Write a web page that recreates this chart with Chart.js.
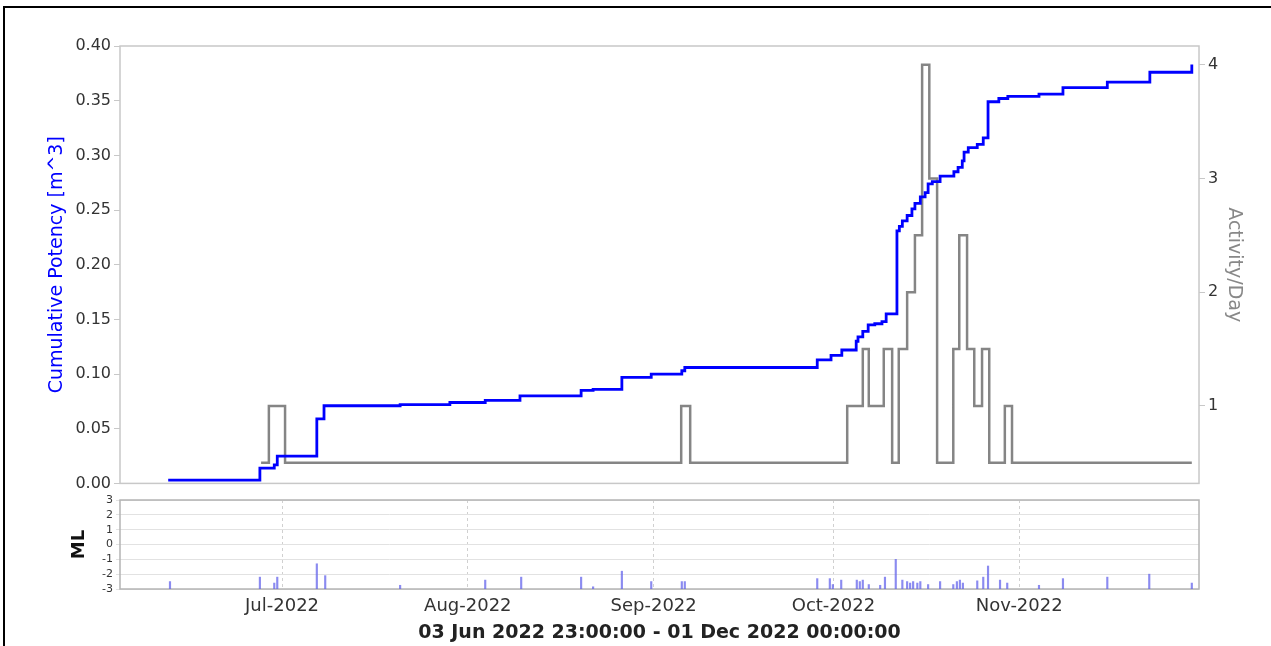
<!DOCTYPE html>
<html>
<head>
<meta charset="utf-8">
<script src="https://cdn.jsdelivr.net/npm/chart.js@4"></script>
<style>
  html, body { margin: 0; padding: 0; background: #fff; }
  body { width: 1271px; height: 646px; position: relative; overflow: hidden; }
  #frame { position: absolute; left: 3px; top: 6px; width: 1300px; height: 700px;
           border-top: 2px solid #000; border-left: 2px solid #000; }
  canvas { position: absolute; left: 0; }
  #topChart { top: 0; }
  #bottomChart { top: 490px; }
</style>
</head>
<body>
<div id="frame"></div>
<canvas id="topChart" width="1271" height="496"></canvas>
<canvas id="bottomChart" width="1271" height="156"></canvas>
<script>
// x values are days counted from 01 Jun 2022 00:00
const startDay = 2 + 23 / 24;   // 03 Jun 2022 23:00
const endDay = 183;             // 01 Dec 2022 00:00

const monthDays = [30, 61, 92, 122, 153];
const monthLabels = ['Jul-2022', 'Aug-2022', 'Sep-2022', 'Oct-2022', 'Nov-2022'];

// cumulative potency [m^3], value after each step
const potencyDays = [11.0, 26.3, 28.7, 29.2, 35.8, 37.0, 49.7, 58.0, 63.9, 69.7, 79.9, 81.9, 86.7,
  91.6, 96.7, 97.2, 119.3, 121.6, 123.4, 125.8, 126.1, 126.9, 127.8, 128.9, 130.1, 130.8, 132.6,
  133.0, 133.5, 134.3, 135.1, 135.6, 136.5, 137.3, 137.8, 138.5, 139.8, 142.1, 142.8, 143.5, 143.8,
  144.5, 146.0, 147.0, 147.8, 149.6, 151.1, 156.3, 160.3, 167.7, 174.8, 181.8];
const potencyValues = [0.003, 0.014, 0.017, 0.025, 0.059, 0.071, 0.072, 0.074, 0.076, 0.080, 0.085,
  0.086, 0.097, 0.100, 0.103, 0.106, 0.113, 0.117, 0.122, 0.130, 0.134, 0.139, 0.145, 0.146, 0.148,
  0.155, 0.231, 0.235, 0.240, 0.245, 0.251, 0.256, 0.262, 0.266, 0.274, 0.276, 0.281, 0.285, 0.289,
  0.295, 0.303, 0.307, 0.310, 0.316, 0.349, 0.352, 0.354, 0.356, 0.362, 0.367, 0.376, 0.383];

// activity per day
const activityDays = [26.5, 27.8, 30.5, 96.6, 98.1, 124.3, 126.9, 127.9, 130.4, 131.8, 132.9, 134.3,
  135.6, 136.8, 138.0, 139.3, 142.0, 143.0, 144.3, 145.5, 146.8, 148.0, 150.6, 151.8, 181.8];
const activityValues = [0.5, 1, 0.5, 1, 0.5, 1, 1.5, 1, 1.5, 0.5, 1.5, 2, 2.5, 4, 3, 0.5, 1.5, 2.5,
  1.5, 1, 1.5, 0.5, 1, 0.5, 0.5];

// local magnitude of single events
const mlDays = [11.3, 26.3, 28.7, 29.2, 35.8, 37.2, 49.7, 63.9, 69.9, 79.9, 81.9, 86.7, 91.6, 96.7,
  97.2, 119.3, 121.4, 121.9, 123.3, 125.9, 126.4, 126.9, 127.9, 129.8, 130.6, 132.4, 133.5, 134.3,
  134.8, 135.3, 136.0, 136.5, 137.8, 139.8, 142.0, 142.6, 143.1, 143.6, 146.0, 147.0, 147.8, 149.8,
  151.0, 156.3, 160.3, 167.7, 174.7, 181.8];
const mlValues = [-2.5, -2.2, -2.6, -2.2, -1.3, -2.1, -2.75, -2.4, -2.2, -2.2, -2.85, -1.8, -2.5,
  -2.5, -2.5, -2.3, -2.3, -2.7, -2.4, -2.4, -2.5, -2.4, -2.7, -2.75, -2.2, -1.0, -2.4, -2.5, -2.6,
  -2.5, -2.6, -2.5, -2.7, -2.5, -2.7, -2.5, -2.4, -2.6, -2.45, -2.2, -1.45, -2.4, -2.6, -2.75, -2.3,
  -2.2, -2.0, -2.6];

const potencyTicks = [0, 0.05, 0.10, 0.15, 0.20, 0.25, 0.30, 0.35, 0.40];
const activityTicks = [1, 2, 3, 4];
const mlTicks = [-3, -2, -1, 0, 1, 2, 3];

Chart.defaults.font.family = "'DejaVu Sans', sans-serif";
Chart.defaults.color = '#333';
Chart.defaults.animation = false;

// thin frame round the plot area
const plotBox = {
  id: 'plotBox',
  beforeDatasetsDraw(chart, args, opts) {
    const a = chart.chartArea;
    const ctx = chart.ctx;
    ctx.save();
    ctx.strokeStyle = opts.color;
    ctx.lineWidth = opts.width;
    ctx.strokeRect(a.left, a.top, a.right - a.left, a.bottom - a.top);
    ctx.restore();
  }
};

const pairs = (xs, ys) => xs.map((x, i) => ({ x: x, y: ys[i] }));

new Chart(document.getElementById('topChart'), {
  type: 'line',
  data: {
    datasets: [{
      label: 'Cumulative Potency',
      data: pairs(potencyDays, potencyValues),
      yAxisID: 'y',
      borderColor: '#0000ff',
      borderWidth: 2.8,
      stepped: 'before',
      pointRadius: 0,
      fill: false
    }, {
      label: 'Activity/Day',
      data: pairs(activityDays, activityValues),
      yAxisID: 'y1',
      borderColor: '#858585',
      borderWidth: 2.5,
      stepped: 'before',
      pointRadius: 0,
      fill: false
    }]
  },
  options: {
    responsive: false,
    layout: { padding: { top: 46, bottom: 10, left: 0, right: 0 } },
    plugins: {
      legend: { display: false },
      tooltip: { enabled: false },
      plotBox: { color: '#c8c8c8', width: 1.5 }
    },
    scales: {
      x: { type: 'linear', min: startDay, max: endDay, display: false },
      y: {
        position: 'left',
        min: 0,
        max: 0.4,
        afterFit: s => { s.width = 120; },
        afterBuildTicks: s => { s.ticks = potencyTicks.map(v => ({ value: v })); },
        ticks: { callback: v => v.toFixed(2), font: { size: 16 }, padding: 3, autoSkip: false },
        grid: { drawOnChartArea: false, tickLength: 6, color: '#c8c8c8' },
        border: { display: false },
        title: {
          display: true,
          text: 'Cumulative Potency [m^3]',
          color: '#0000ff',
          font: { size: 19 },
          padding: { top: 46, bottom: 0 }
        }
      },
      y1: {
        position: 'right',
        min: 0.318,
        max: 4.166,
        afterFit: s => { s.width = 72; },
        afterBuildTicks: s => { s.ticks = activityTicks.map(v => ({ value: v })); },
        ticks: { font: { size: 16 }, padding: 3, autoSkip: false },
        grid: { drawOnChartArea: false, tickLength: 6, color: '#c8c8c8' },
        border: { display: false },
        title: {
          display: true,
          text: 'Activity/Day',
          color: '#888',
          font: { size: 19 },
          padding: { top: 26, bottom: 0 }
        }
      }
    }
  },
  plugins: [plotBox]
});

new Chart(document.getElementById('bottomChart'), {
  type: 'bar',
  data: {
    datasets: [{
      label: 'ML',
      data: mlDays.map((d, i) => ({ x: d, y: [-3, mlValues[i]] })),
      backgroundColor: 'rgba(100, 100, 235, 0.75)',
      borderWidth: 0,
      barThickness: 1.5
    }]
  },
  options: {
    responsive: false,
    layout: { padding: { top: 10, bottom: 0, left: 0, right: 72 } },
    plugins: {
      legend: { display: false },
      tooltip: { enabled: false },
      plotBox: { color: '#b4b4b4', width: 1.5 }
    },
    scales: {
      x: {
        type: 'linear',
        min: startDay,
        max: endDay,
        offset: false,
        afterFit: s => { s.height = 57; },
        afterBuildTicks: s => { s.ticks = monthDays.map(v => ({ value: v })); },
        ticks: {
          callback: v => monthLabels[monthDays.indexOf(v)],
          font: { size: 18 },
          padding: 7,
          maxRotation: 0,
          autoSkip: false
        },
        grid: { color: '#d0d0d0', drawTicks: false, offset: false },
        border: { display: false, dash: [3, 3] },
        title: {
          display: true,
          text: '03 Jun 2022 23:00:00 - 01 Dec 2022 00:00:00',
          color: '#222',
          font: { size: 19, weight: 'bold' },
          padding: { top: 0, bottom: 2 }
        }
      },
      y: {
        min: -3,
        max: 3,
        afterFit: s => { s.width = 120; },
        afterBuildTicks: s => { s.ticks = mlTicks.map(v => ({ value: v })); },
        ticks: { font: { size: 11 }, padding: 3, autoSkip: false },
        grid: { color: '#e2e2e2', tickLength: 4 },
        border: { display: false },
        title: {
          display: true,
          text: 'ML',
          color: '#111',
          font: { size: 18, weight: 'bold' },
          padding: { top: 69, bottom: 0 }
        }
      }
    }
  },
  plugins: [plotBox]
});
</script>
</body>
</html>
